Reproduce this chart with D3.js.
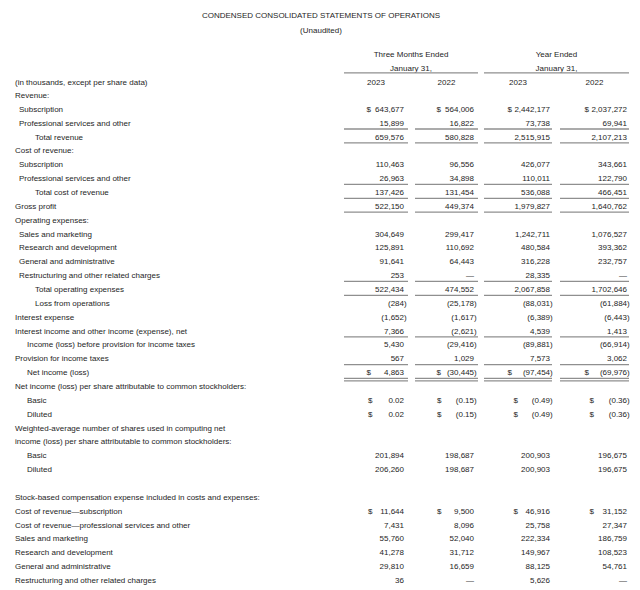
<!DOCTYPE html>
<html><head><meta charset="utf-8">
<script src="https://cdn.jsdelivr.net/npm/d3@7"></script>
<style>
body{margin:0;background:#fff}
svg{display:block}
text{font-family:"Liberation Sans",Arial,Helvetica,sans-serif;font-size:8px;fill:#1e1e1e}
</style>
</head><body>
<svg id="c" width="640" height="590"></svg>
<script>
const u = undefined;
const title = "CONDENSED CONSOLIDATED STATEMENTS OF OPERATIONS";
const subtitle = "(Unaudited)";
const periodGroups = ["Three Months Ended", "Year Ended"];
const periodDate = "January 31,";
const years = ["2023", "2022", "2023", "2022"];
const unitsNote = "(in thousands, except per share data)";

const rowLabels = [
  "Revenue:", "Subscription", "Professional services and other", "Total revenue",
  "Cost of revenue:", "Subscription", "Professional services and other", "Total cost of revenue",
  "Gross profit", "Operating expenses:", "Sales and marketing", "Research and development",
  "General and administrative", "Restructuring and other related charges", "Total operating expenses",
  "Loss from operations", "Interest expense", "Interest income and other income (expense), net",
  "Income (loss) before provision for income taxes", "Provision for income taxes", "Net income (loss)",
  "Net income (loss) per share attributable to common stockholders:", "Basic", "Diluted",
  "Weighted-average number of shares used in computing net",
  "income (loss) per share attributable to common stockholders:", "Basic", "Diluted",
  "",
  "Stock-based compensation expense included in costs and expenses:",
  "Cost of revenue\u2014subscription", "Cost of revenue\u2014professional services and other",
  "Sales and marketing", "Research and development", "General and administrative",
  "Restructuring and other related charges"
];
const rowLevels = [0,1,1,3, 0,1,1,3, 0,0,1,1, 1,1,3, 3,0,0, 2,0,2, 0,2,2, 0,0,2,2, 0, 0,0,0,0,0,0,0];

const q2023 = [u,643677,15899,659576, u,110463,26963,137426, 522150,u,304649,125891, 91641,253,522434,
  -284,-1652,7366, 5430,567,4863, u,0.02,0.02, u,u,201894,206260, u, u,11644,7431,55760,41278,29810,36];
const q2022 = [u,564006,16822,580828, u,96556,34898,131454, 449374,u,299417,110692, 64443,null,474552,
  -25178,-1617,-2621, -29416,1029,-30445, u,-0.15,-0.15, u,u,198687,198687, u, u,9500,8096,52040,31712,16659,null];
const y2023 = [u,2442177,73738,2515915, u,426077,110011,536088, 1979827,u,1242711,480584, 316228,28335,2067858,
  -88031,-6389,4539, -89881,7573,-97454, u,-0.49,-0.49, u,u,200903,200903, u, u,46916,25758,222334,149967,88125,5626];
const y2022 = [u,2037272,69941,2107213, u,343661,122790,466451, 1640762,u,1076527,393362, 232757,null,1702646,
  -61884,-6443,1413, -66914,3062,-69976, u,-0.36,-0.36, u,u,196675,196675, u, u,31152,27347,186759,108523,54761,null];

// which rows carry a "$" sign (A = tight, B = per-share / compensation style)
const rowDollar = ["","A","","", "","","","", "","","","", "","","", "","","", "","","A", "","B","B", "","","","", "", "","B","","","","",""];
// rules under rows: 1 = single, 2 = double
const rowRule = [0,0,1,1, 0,0,1,1, 1,0,0,0, 0,1,1, 0,0,1, 0,1,2, 0,0,0, 0,0,0,0, 0, 0,0,0,0,0,0,0];
const perShareRows = [22, 23];

const columns = [q2023, q2022, y2023, y2022];

const svg = d3.select("#c");
const ink = "#1e1e1e", ruleColor = "#8f8f8f";

const y = d3.scaleLinear().domain([0, rowLabels.length - 1]).range([95, 580]);
const colIdx = d3.range(columns.length);
const colLeft = d3.scaleOrdinal().domain(colIdx).range([344, 415, 484, 560]);
const colRight = d3.scaleOrdinal().domain(colIdx).range([408, 478, 552, 629]);
const numRight = d3.scaleOrdinal().domain(colIdx).range([404, 474, 550, 627]);
const dollarA = d3.scaleOrdinal().domain(colIdx).range([366.5, 436.5, 507.5, 584.5]);
const dollarB = d3.scaleOrdinal().domain(colIdx).range([368, 437, 513.5, 589.5]);
const indent = d3.scaleOrdinal().domain([0,1,2,3]).range([15, 19, 27, 35]);

const fInt = d3.format(",d"), fDec = d3.format(".2f");

// titles
svg.append("text").attr("x", 321).attr("y", 18).attr("text-anchor", "middle").text(title);
svg.append("text").attr("x", 321).attr("y", 33).attr("text-anchor", "middle").text(subtitle);

// period headers
const groupSpans = [[0, 1], [2, 3]];
groupSpans.forEach((g, gi) => {
  const x0 = colLeft(g[0]), x1 = colRight(g[1]);
  const cx = (x0 + x1) / 2;
  svg.append("text").attr("x", cx).attr("y", 57).attr("text-anchor", "middle").text(periodGroups[gi]);
  svg.append("text").attr("x", cx).attr("y", 70.5).attr("text-anchor", "middle").text(periodDate);
  svg.append("line").attr("x1", x0).attr("x2", x1).attr("y1", 72.8).attr("y2", 72.8)
    .attr("stroke", ruleColor).attr("stroke-width", 1.3);
});
svg.selectAll("text.year").data(years).join("text").attr("class", "year")
  .attr("x", (d, i) => (colLeft(i) + colRight(i)) / 2).attr("y", 84.5)
  .attr("text-anchor", "middle").text(d => d);
svg.append("text").attr("x", 15).attr("y", 84.5).text(unitsNote);

// row labels
svg.selectAll("text.lbl").data(rowLabels).join("text").attr("class", "lbl")
  .attr("x", (d, i) => indent(rowLevels[i])).attr("y", (d, i) => y(i) + 3).text(d => d);

// values
const fmt = (v, i) => {
  if (v === null) return "\u2014";
  const f = perShareRows.includes(i) ? fDec : fInt;
  return v < 0 ? "(" + f(-v) + ")" : f(v);
};
columns.forEach((vals, c) => {
  const cells = vals.map((v, i) => ({v, i})).filter(d => d.v !== undefined);
  svg.selectAll("text.v" + c).data(cells).join("text").attr("class", "v" + c)
    .attr("x", d => numRight(c) + (d.v !== null && d.v < 0 ? 2.7 : 0))
    .attr("y", d => y(d.i) + 3).attr("text-anchor", "end").text(d => fmt(d.v, d.i));
  const dol = cells.filter(d => rowDollar[d.i]);
  svg.selectAll("text.d" + c).data(dol).join("text").attr("class", "d" + c)
    .attr("x", d => rowDollar[d.i] === "A" ? dollarA(c) : dollarB(c))
    .attr("y", d => y(d.i) + 3).text("$");
  // rules
  const rules = [];
  rowRule.forEach((r, i) => {
    if (r >= 1) rules.push(y(i) + 6.3);
    if (r === 2) rules.push(y(i) + 8.8);
  });
  svg.selectAll("line.r" + c).data(rules).join("line").attr("class", "r" + c)
    .attr("x1", colLeft(c)).attr("x2", colRight(c)).attr("y1", d => d).attr("y2", d => d)
    .attr("stroke", ruleColor).attr("stroke-width", 1.3);
});
</script>
</body></html>
